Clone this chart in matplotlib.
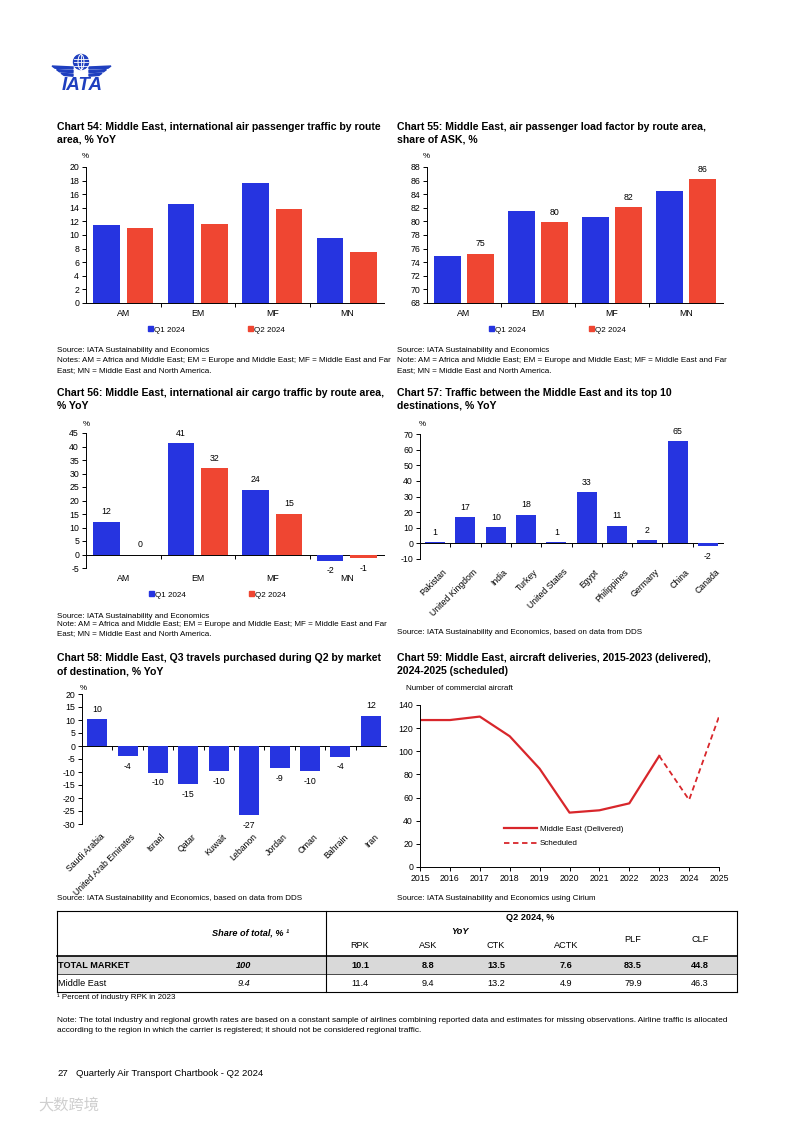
import numpy as np
import matplotlib
matplotlib.use("Agg")
import matplotlib.pyplot as plt
from matplotlib.patches import Patch, Circle, Ellipse, Polygon, Rectangle
from matplotlib.transforms import ScaledTranslation

# ---------- data ----------
routes = ["AM", "EM", "MF", "MN"]
pax_q1 = [11.5, 14.6, 17.6, 9.5]
pax_q2 = [11.1, 11.6, 13.8, 7.5]
plf_q1 = [74.9, 81.5, 80.7, 84.5]
plf_q2 = [75.2, 79.9, 82.1, 86.2]
cargo_q1 = [12.1, 41.2, 23.9, -2.3]
cargo_q2 = [0.0, 32.0, 15.0, -1.4]

dest = ["Pakistan", "United Kingdom", "India", "Turkey", "United States",
        "Egypt", "Philippines", "Germany", "China", "Canada"]
dest_yoy = [0.8, 16.8, 10.2, 18.3, 0.6, 32.6, 11.3, 2.1, 65.3, -1.7]

markets = ["Saudi Arabia", "United Arab Emirates", "Israel", "Qatar", "Kuwait",
           "Lebanon", "Jordan", "Oman", "Bahrain", "Iran"]
q3_sales = [10.3, -3.9, -10.3, -14.7, -9.8, -26.6, -8.6, -9.6, -4.1, 11.6]

years = [2015, 2016, 2017, 2018, 2019, 2020, 2021, 2022, 2023]
delivered = [127, 127, 130, 113, 85, 47, 49, 55, 96]
sched_years = [2023, 2024, 2025]
scheduled = [96, 58, 130]

tbl_cols = ["RPK", "ASK", "CTK", "ACTK", "PLF", "CLF"]
tbl_rows = ["TOTAL MARKET", "Middle East"]
tbl_share = ["100", "9.4"]
tbl_total = [10.1, 8.8, 13.5, 7.6, 83.5, 44.8]
tbl_me = [11.4, 9.4, 13.2, 4.9, 79.9, 46.3]

# ---------- style ----------
BLUE = "#2634e0"
RED = "#ef4632"
LINE_RED = "#d8262b"
LOGO_BLUE = "#1f3fbf"
TITLE = 7.6
BODY = 5.8
TICK = 6.3

plt.rcParams["font.family"] = ["Liberation Sans", "DejaVu Sans"]
plt.rcParams["axes.unicode_minus"] = False

W, H = 793, 1121
fig = plt.figure(figsize=(W / 100, H / 100), dpi=100)

# overlay in pixel coordinates for the logo and the table
ov = fig.add_axes([0, 0, 1, 1])
ov.set_xlim(0, W)
ov.set_ylim(H, 0)
ov.axis("off")


def add_ax(x0, y0, x1, y1):
    return fig.add_axes([x0 / W, 1 - y1 / H, (x1 - x0) / W, (y1 - y0) / H])


def put(x, y, s, **kw):
    kw.setdefault("va", "center")
    kw.setdefault("fontsize", BODY)
    fig.text(x / W, 1 - y / H, s, **kw)


def title(x, y, line1, line2):
    put(x, y, line1, fontsize=TITLE, fontweight="bold")
    put(x, y + 13, line2, fontsize=TITLE, fontweight="bold")


def bar_axes(ax, n, lo, hi, step, base=None):
    ax.set_xlim(-0.5, n - 0.5)
    ax.set_ylim(lo, hi)
    ax.set_yticks(np.arange(lo, hi + step / 2, step))
    for s in ["top", "right", "bottom"]:
        ax.spines[s].set_visible(False)
    ax.spines["left"].set_linewidth(0.7)
    ax.tick_params(axis="y", length=3, width=0.7, pad=2, labelsize=TICK)
    ax.tick_params(axis="x", length=0, labelsize=TICK)
    if base is None:
        zero = ax.secondary_xaxis(0)
    else:
        zero = ax.secondary_xaxis(base, transform=ax.transData)
    zero.set_xticks(np.arange(0.5, n - 1, 1))
    zero.tick_params(length=3, width=0.7, labelbottom=False)
    zero.spines["bottom"].set_linewidth(0.7)


def q_legend(ax, x, y):
    h = [Patch(color=BLUE), Patch(color=RED)]
    ax.legend(h, ["Q1 2024", "Q2 2024"], loc="center left",
              bbox_to_anchor=(x / W, 1 - y / H), bbox_transform=fig.transFigure,
              ncol=2, frameon=False, fontsize=BODY, handlelength=0.6,
              handleheight=0.6, handletextpad=0.15, columnspacing=7.8,
              borderpad=0, borderaxespad=0)


def shift_labels(ax, dx):
    for lab in ax.get_xticklabels():
        lab.set_transform(lab.get_transform() + ScaledTranslation(dx / 100, 0, fig.dpi_scale_trans))


x4 = np.arange(len(routes))
bw = 0.36
off = 0.225

# ---------- logo ----------
ov.add_patch(Circle((81, 62), 7.5, color=LOGO_BLUE))
ov.add_patch(Ellipse((81, 62), 6, 15, fill=False, ec="white", lw=0.7))
for yy in [58.5, 62, 65.5]:
    ov.plot([74, 88], [yy, yy], color="white", lw=0.6)
ov.plot([81, 81], [54.5, 69.5], color="white", lw=0.6)
for k in range(3):
    y0 = 66 + k * 3.6
    ov.add_patch(Polygon([(52 + 4.5 * k, y0), (73, y0 + 1), (73, y0 + 3), (55 + 4.5 * k, y0 + 2.2)],
                         color=LOGO_BLUE))
    ov.add_patch(Polygon([(111 - 4.5 * k, y0), (89, y0 + 1), (89, y0 + 3), (108 - 4.5 * k, y0 + 2.2)],
                         color=LOGO_BLUE))
ov.text(82.5, 85.5, "IATA", fontsize=13.5, fontweight="bold", style="italic",
        color=LOGO_BLUE, ha="center", va="center")

# ---------- Chart 54 ----------
title(57, 127, "Chart 54: Middle East, international air passenger traffic by route", "area, % YoY")
ax = add_ax(86, 167, 384, 303)
ax.bar(x4 - off, pax_q1, bw, color=BLUE)
ax.bar(x4 + off, pax_q2, bw, color=RED)
bar_axes(ax, 4, 0, 20, 2)
ax.set_xticks(x4, routes)
ax.tick_params(axis="x", pad=4)
put(82, 157, "%")
q_legend(ax, 148, 330)
put(57, 351, "Source: IATA Sustainability and Economics")
put(57, 361, "Notes: AM = Africa and Middle East; EM = Europe and Middle East; MF = Middle East and Far")
put(57, 371, "East; MN = Middle East and North America.")

# ---------- Chart 55 ----------
title(397, 127, "Chart 55: Middle East, air passenger load factor by route area,", "share of ASK, %")
ax = add_ax(427, 167, 723, 303)
ax.bar(x4 - off, plf_q1, bw, color=BLUE)
b = ax.bar(x4 + off, plf_q2, bw, color=RED)
ax.bar_label(b, fmt="{:.0f}", padding=4, fontsize=TICK)
bar_axes(ax, 4, 68, 88, 2)
ax.set_xticks(x4, routes)
ax.tick_params(axis="x", pad=4)
put(423, 157, "%")
q_legend(ax, 489, 330)
put(397, 351, "Source: IATA Sustainability and Economics")
put(397, 361, "Note: AM = Africa and Middle East; EM = Europe and Middle East; MF = Middle East and Far")
put(397, 371, "East; MN = Middle East and North America.")

# ---------- Chart 56 ----------
title(57, 393, "Chart 56: Middle East, international air cargo traffic by route area,", "% YoY")
ax = add_ax(86, 433, 384, 568)
b1 = ax.bar(x4 - off, cargo_q1, bw, color=BLUE)
b2 = ax.bar(x4 + off, cargo_q2, bw, color=RED)
ax.bar_label(b1, fmt="{:.0f}", padding=4, fontsize=TICK)
ax.bar_label(b2, fmt="{:.0f}", padding=4, fontsize=TICK)
bar_axes(ax, 4, -5, 45, 5, base=0)
ax.set_xticks(x4, routes)
ax.tick_params(axis="x", pad=4)
put(83, 424, "%")
q_legend(ax, 149, 595)
put(57, 616, "Source: IATA Sustainability and Economics")
put(57, 625, "Note: AM = Africa and Middle East; EM = Europe and Middle East; MF = Middle East and Far")
put(57, 634, "East; MN = Middle East and North America.")

# ---------- Chart 57 ----------
title(397, 393, "Chart 57: Traffic between the Middle East and its top 10", "destinations, % YoY")
ax = add_ax(420, 434, 723, 559)
x10 = np.arange(len(dest))
b = ax.bar(x10, dest_yoy, 0.66, color=BLUE)
ax.bar_label(b, fmt="{:.0f}", padding=4, fontsize=TICK)
bar_axes(ax, 10, -10, 70, 10, base=0)
ax.set_xticks(x10, dest, rotation=45, ha="right", va="top", rotation_mode="anchor")
ax.tick_params(axis="x", pad=6)
shift_labels(ax, 7)
put(419, 424, "%")
put(397, 633, "Source: IATA Sustainability and Economics, based on data from DDS")

# ---------- Chart 58 ----------
title(57, 658, "Chart 58: Middle East, Q3 travels purchased during Q2 by market", "of destination, % YoY")
ax = add_ax(82, 694, 386, 824)
b = ax.bar(x10, q3_sales, 0.66, color=BLUE)
ax.bar_label(b, fmt="{:.0f}", padding=4, fontsize=TICK)
bar_axes(ax, 10, -30, 20, 5, base=0)
ax.set_xticks(x10, markets, rotation=45, ha="right", va="top", rotation_mode="anchor")
ax.tick_params(axis="x", pad=6)
shift_labels(ax, 3)
put(80, 688, "%")
put(57, 898, "Source: IATA Sustainability and Economics, based on data from DDS")

# ---------- Chart 59 ----------
title(397, 658, "Chart 59: Middle East, aircraft deliveries, 2015-2023 (delivered),", "2024-2025 (scheduled)")
ax = add_ax(420, 705, 719, 867)
ax.plot(years, delivered, color=LINE_RED, lw=1.6, label="Middle East (Delivered)")
ax.plot(sched_years, scheduled, color=LINE_RED, lw=1.3, ls=(0, (3, 2)), label="Scheduled")
ax.set_xlim(2015, 2025)
ax.set_ylim(0, 140)
ax.set_yticks(np.arange(0, 141, 20))
ax.set_xticks(np.arange(2015, 2026, 1))
for s in ["top", "right"]:
    ax.spines[s].set_visible(False)
ax.spines["left"].set_linewidth(0.7)
ax.spines["bottom"].set_linewidth(0.7)
ax.tick_params(length=3, width=0.7, pad=2, labelsize=TICK)
ax.legend(loc="center left", bbox_to_anchor=(504 / W, 1 - 836.5 / H),
          bbox_transform=fig.transFigure, frameon=False, fontsize=BODY,
          handlelength=4.1, handletextpad=0.35, labelspacing=0.8,
          borderpad=0, borderaxespad=0)
put(406, 689, "Number of commercial aircraft")
put(397, 898, "Source: IATA Sustainability and Economics using Cirium")

# ---------- table ----------
tx0, tx1, tsep = 57, 737, 326
ty_top, ty_head, ty_mid, ty_bot = 911, 956, 974, 992
col_x = [360, 428, 496, 566, 633, 700]
TB = 6.6

ov.add_patch(Rectangle((tx0, ty_head), tx1 - tx0, ty_mid - ty_head, color="#d9d9d9", lw=0))
ov.plot([tx0, tx1], [ty_top, ty_top], color="black", lw=0.8)
ov.plot([tx0, tx1], [ty_head, ty_head], color="black", lw=1.2)
ov.plot([tx0, tx1], [ty_mid, ty_mid], color="black", lw=0.5)
ov.plot([tx0, tx1], [ty_bot, ty_bot], color="black", lw=0.8)
for xx in [tx0, tsep, tx1]:
    ov.plot([xx, xx], [ty_top, ty_bot], color="black", lw=0.8)

ov.text(250, 933, "Share of total, % \u00b9", fontsize=TB, fontweight="bold", style="italic",
        ha="center", va="center")
ov.text(530, 918, "Q2 2024, %", fontsize=TB, fontweight="bold", ha="center", va="center")
ov.text(460, 932, "YoY", fontsize=TB, fontweight="bold", style="italic", ha="center", va="center")
for i, c in enumerate(tbl_cols):
    ov.text(col_x[i], 940 if c in ("PLF", "CLF") else 946, c, fontsize=TB, ha="center", va="center")

row_y = [965, 983]
row_vals = [tbl_total, tbl_me]
for r, name in enumerate(tbl_rows):
    wt = "bold" if r == 0 else "normal"
    ov.text(58, row_y[r], name, fontsize=TB, fontweight=wt, ha="left", va="center")
    ov.text(244, row_y[r], tbl_share[r], fontsize=TB, fontweight=wt, style="italic",
            ha="center", va="center")
    for i, v in enumerate(row_vals[r]):
        ov.text(col_x[i], row_y[r], f"{v:.1f}", fontsize=TB, fontweight=wt, ha="center", va="center")

put(57, 997, "\u00b9 Percent of industry RPK in 2023", fontsize=5.8)
put(57, 1020, "Note: The total industry and regional growth rates are based on a constant sample of airlines "
    "combining reported data and estimates for missing observations. Airline traffic is allocated", fontsize=5.95)
put(57, 1030, "according to the region in which the carrier is registered; it should not be considered "
    "regional traffic.", fontsize=5.95)

# ---------- footer ----------
put(57, 1073, "27", fontsize=6.8)
put(76, 1073, "Quarterly Air Transport Chartbook - Q2 2024", fontsize=6.8)
put(38, 1105, "大数跨境", fontsize=11, color="#cfcfcf",
    family=["Noto Sans CJK SC", "DejaVu Sans"])

fig.savefig("out.png", dpi=100, facecolor="white")
